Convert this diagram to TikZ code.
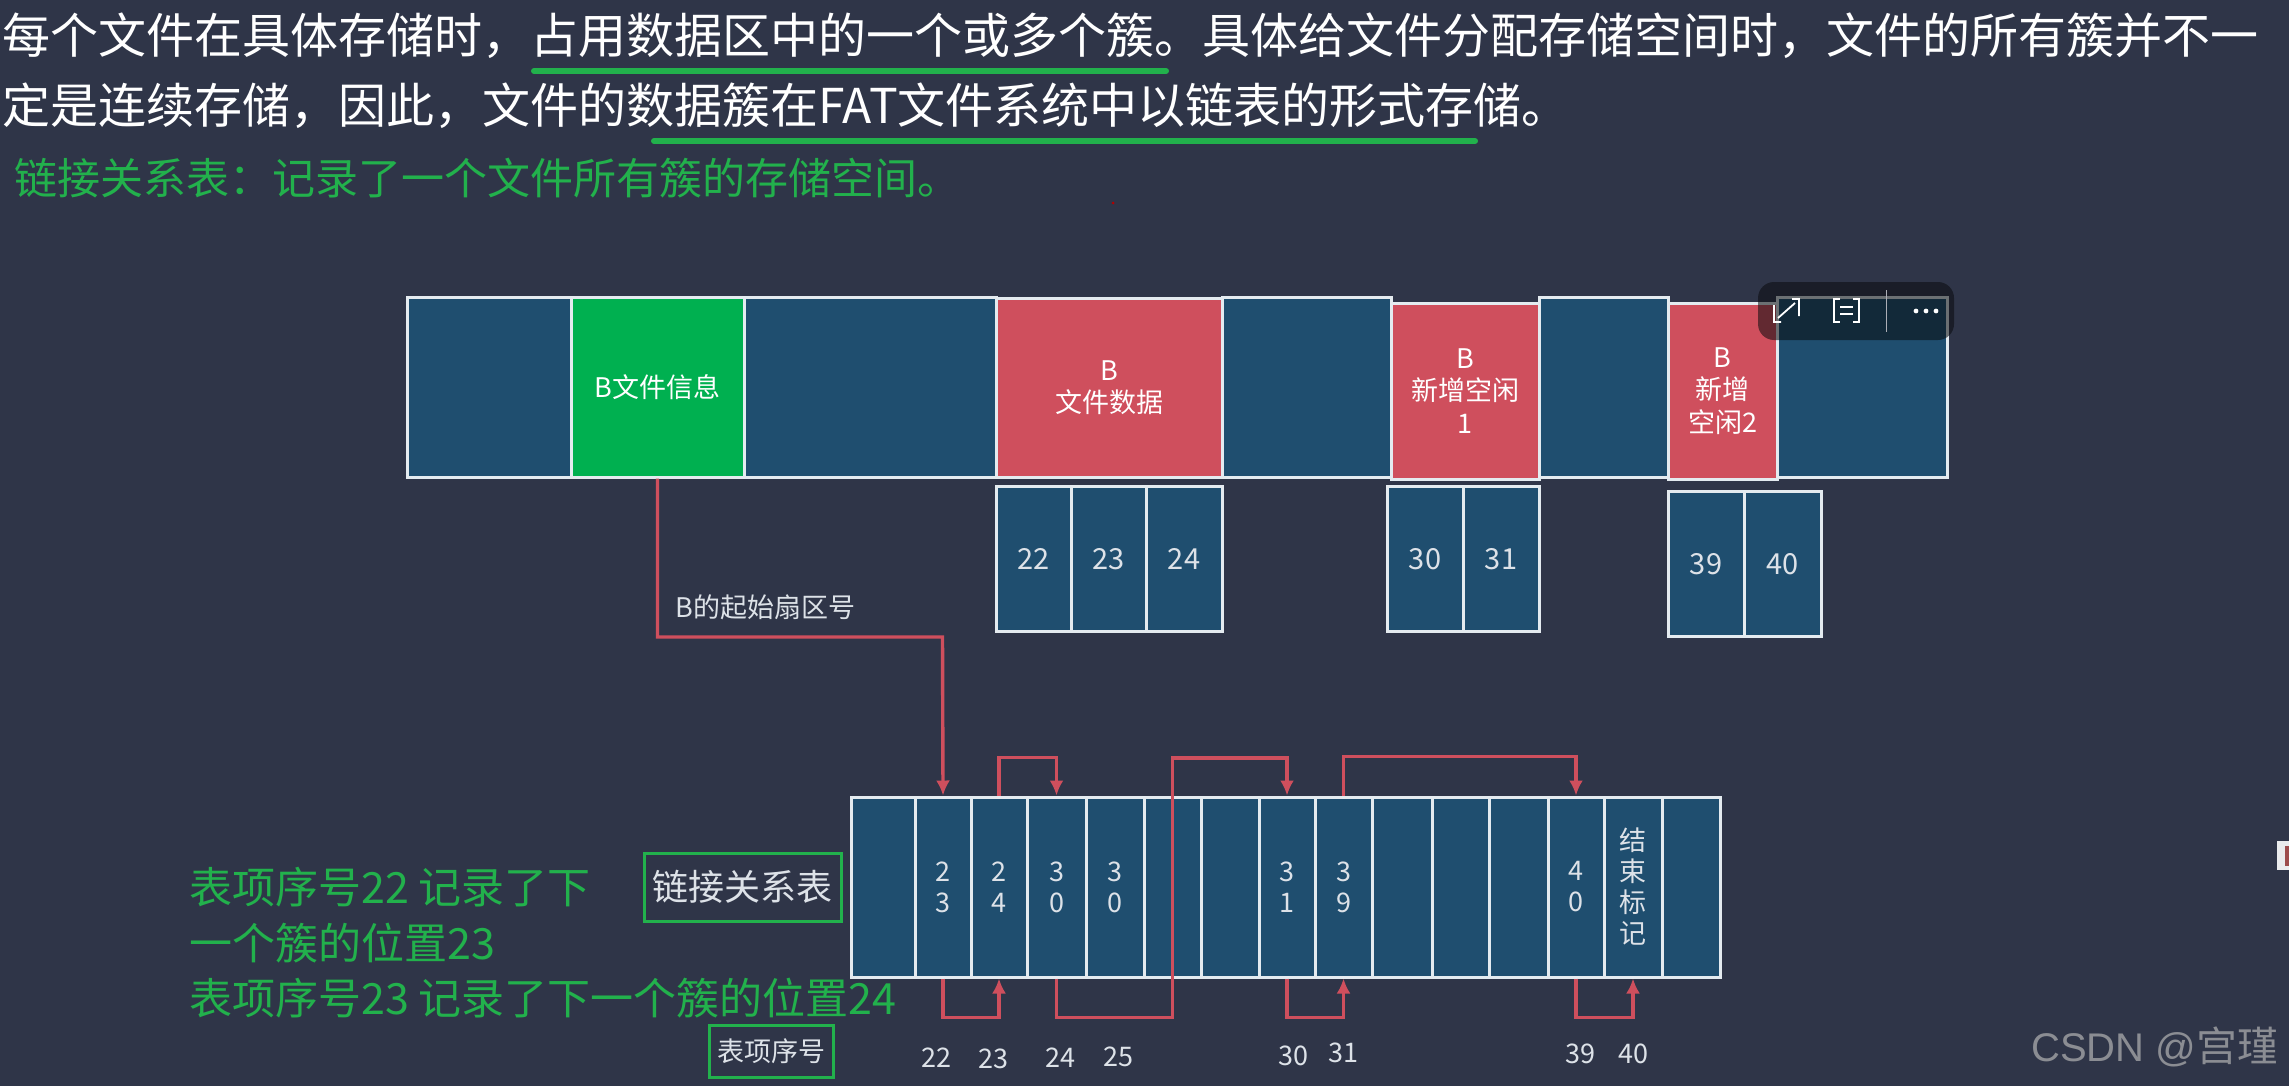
\documentclass[tikz,border=0pt]{standalone}
\usepackage{fontspec}
\setmainfont{Noto Sans CJK SC}
\newfontfamily\markfont{Liberation Sans}
\usetikzlibrary{arrows.meta}
\definecolor{bgdark}{HTML}{2F3548}
\definecolor{cellblue}{HTML}{1F4E6F}
\definecolor{cellred}{HTML}{CF4F5D}
\definecolor{cellgreen}{HTML}{00B050}
\definecolor{notegreen}{HTML}{22B14C}
\definecolor{edgewhite}{HTML}{E4EBF0}
\definecolor{labelgray}{HTML}{DDE2E8}
\tikzset{
cell/.style={draw=edgewhite,line width=1.5pt,inner sep=0,text=labelgray,align=center,font=\fontsize{13.5}{15.5}\selectfont},
stripcell/.style={cell,font=\fontsize{13.5}{16.2}\selectfont,text=white},
link/.style={draw=cellred,line width=1.7pt,-{Latex[length=7.5pt,width=7pt]}},
headline/.style={anchor=west,inner sep=0,text=white,font=\fontsize{24}{28}\selectfont},
note/.style={anchor=west,inner sep=0,text=notegreen,font=\fontsize{21.5}{26}\selectfont},
tag/.style={draw=notegreen,line width=1.5pt,inner sep=0,text=labelgray},
smalllabel/.style={inner sep=0,text=labelgray,font=\fontsize{13.5}{16}\selectfont}
}
\begin{document}
\begin{tikzpicture}[x=.5pt,y=-.5pt]
\fill[bgdark] (0,0) rectangle (2289,1086);\useasboundingbox (0,0) rectangle (2289,1086);
\node[headline] (line1) at (2,36) {每个文件在具体存储时，占用数据区中的一个或多个簇。具体给文件分配存储空间时，文件的所有簇并不一};
\node[headline] (line2) at (2,106) {定是连续存储，因此，文件的数据簇在FAT文件系统中以链表的形式存储。};
\draw[notegreen,line width=3pt,line cap=round] (534,71)--(1166,71);\draw[notegreen,line width=3pt,line cap=round] (654,141)--(1475,141);
\node[note] (line3) at (14,178) {链接关系表：记录了一个文件所有簇的存储空间。};
\fill[red!70!black] (1113,203) circle (1.5);
\foreach \nm/\l/\r in {s0/407/571,s2/744/996,s4/1222/1391,s6/1539/1668,s8/1777/1947}{\node[stripcell,fill=cellblue,minimum width={(\r-\l)*.5pt},minimum height=90pt] (\nm) at ({(\l+\r)/2},387) {};}
\node[stripcell,fill=cellgreen,minimum width=86.5pt,minimum height=90pt] (s1) at (657.5,387) {B文件信息};
\node[stripcell,fill=cellred,minimum width=113pt,minimum height=89.5pt] (s3) at (1109,387.5) {B\\文件数据};
\node[stripcell,fill=cellred,minimum width=74pt,minimum height=88pt] (s5) at (1465,391) {B\\新增空闲\\1};
\node[stripcell,fill=cellred,minimum width=54.5pt,minimum height=88pt] (s7) at (1722.5,391) {B\\新增\\空闲2};
\foreach \nm/\l/\r/\y/\v in {c22/996/1071/559/22,c23/1071/1146/559/23,c24/1146/1222/559/24,c30/1387/1463/559/30,c31/1463/1539/559/31,c39/1668/1744/564/39,c40/1744/1821/564/40}{\node[cell,fill=cellblue,minimum width={(\r-\l)*.5pt},minimum height=72.5pt,font=\fontsize{14.5}{17}\selectfont] (\nm) at ({(\l+\r)/2},\y) {\v};}
\foreach \nm/\l/\r/\v in {t0/851/915/{},t1/915/971/{2\\3},t2/971/1027/{2\\4},t3/1027/1086/{3\\0},t4/1086/1144/{3\\0},t5/1144/1201/{},t6/1201/1259/{},t7/1259/1315/{3\\1},t8/1315/1372/{3\\9},t9/1372/1432/{},t10/1432/1489/{},t11/1489/1548/{},t12/1548/1604/{4\\0},t13/1604/1662/{结\\束\\标\\记},t14/1662/1720/{}}{\node[cell,fill=cellblue,minimum width={(\r-\l)*.5pt},minimum height=90pt] (\nm) at ({(\l+\r)/2},887) {\v};}
\draw[link] (s1.south) |- (942.5,637) -- (t1.north);
\node[smalllabel,anchor=west] (startlabel) at (675,607) {B的起始扇区号};
\draw[link] (t2.north) -- ++(0,-38) -| (t3.north);\draw[link] (t3.south) -- ++(0,39) -| (t5.center) |- (1287,758) -- (t7.north);
\draw[link] (t8.north) -- ++(0,-39) -| (t12.north);
\draw[link] (t1.south) -- ++(0,39) -| (t2.south);\draw[link] (t7.south) -- ++(0,39) -| (t8.south);\draw[link] (t12.south) -- ++(0,39) -| (t13.south);
\foreach \v/\x/\y in {22/936/1058,23/993/1059,24/1060/1058,25/1118/1057,30/1293/1056,31/1343/1053,39/1580/1054,40/1633/1054}{\node[smalllabel] (i\v) at (\x,\y) {\v};}
\node[note] (note1) at (189,887) {表项序号22 记录了下};
\node[note] (note2) at (189,943) {一个簇的位置23};
\node[note] (note3) at (189,998) {表项序号23 记录了下一个簇的位置24};
\node[tag,minimum width=98.5pt,minimum height=34pt,font=\fontsize{18}{20}\selectfont] (tabletag) at (742.5,887) {链接关系表};
\node[tag,minimum width=62pt,minimum height=26pt,font=\fontsize{13.5}{16}\selectfont] (indextag) at (771,1051) {表项序号};
\fill[black!80!bgdark,opacity=.55,rounded corners=8pt] (1758,282) rectangle (1954,340);
\draw[white,line width=.9pt] (1774,305)--(1774,322)--(1781,322) (1792,299)--(1799,299)--(1799,316) (1778,318)--(1795,303);
\draw[white,line width=.9pt] (1840,299)--(1834,299)--(1834,322)--(1840,322) (1853,299)--(1859,299)--(1859,322)--(1853,322) (1840,307)--(1853,307) (1840,314)--(1853,314);
\draw[white!60!bgdark,line width=.4pt] (1886,290)--(1886,332);
\foreach \x in {1916,1926,1936}{\fill[white] (\x,311) circle (2.4);}
\fill[white!90!bgdark] (2277,841) rectangle (2289,870);\fill[red!45!black!70] (2285,846) rectangle (2289,866);
\node[anchor=west,inner sep=0,text=black!30!white!70!bgdark,font=\fontsize{20}{26}\selectfont] (mark) at (2031,1047) {{\markfont CSDN @}\fontsize{20.5}{26}\selectfont 宫瑾};
\end{tikzpicture}
\end{document}
